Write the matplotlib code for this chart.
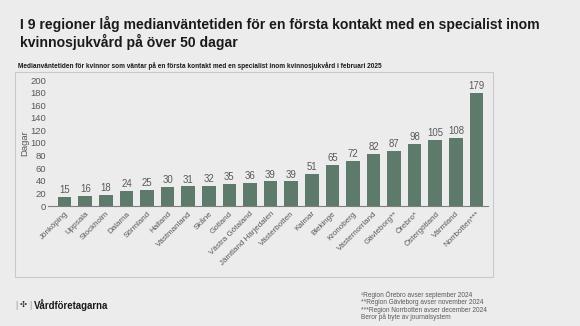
import matplotlib.pyplot as plt
from matplotlib.patches import Rectangle

plt.rcParams['font.family'] = ['Liberation Sans', 'DejaVu Sans']

regioner = ['Jönköping', 'Uppsala', 'Stockholm', 'Dalarna', 'Sörmland', 'Halland',
            'Västmanland', 'Skåne', 'Gotland', 'Västra Götaland', 'Jämtland Härjedalen',
            'Västerbotten', 'Kalmar', 'Blekinge', 'Kronoberg', 'Västernorrland',
            'Gävleborg**', 'Örebro*', 'Östergötland', 'Värmland', 'Norrbotten***']
dagar = [15, 16, 18, 24, 25, 30, 31, 32, 35, 36, 39, 39, 51, 65, 72, 82, 87, 98, 105, 108, 179]
y_ticks = list(range(0, 201, 20))

fotnoter = ['¹Region Örebro avser september 2024',
            '**Region Gävleborg avser november 2024',
            '***Region Norrbotten avser december 2024',
            'Beror på byte av journalsystem']

bg = '#ececec'
bar_color = '#5e7a6b'
grey = '#595959'

fig = plt.figure(figsize=(5.8, 3.26), dpi=100, facecolor=bg)

# ram runt diagrammet (bara kant)
fig.patches.append(Rectangle((15 / 580, 1 - 277 / 326), 478 / 580, 205 / 326,
                             transform=fig.transFigure, fill=False,
                             edgecolor='#c9c9c9', linewidth=0.8))

fig.text(20 / 580, 1 - 29.5 / 326,
         'I 9 regioner låg medianväntetiden för en första kontakt med en specialist inom',
         fontsize=10.1, fontweight='bold', color='#1a1a1a', va='baseline')
fig.text(20 / 580, 1 - 46.5 / 326, 'kvinnosjukvård på över 50 dagar',
         fontsize=10.1, fontweight='bold', color='#1a1a1a', va='baseline')
fig.text(18 / 580, 1 - 66 / 326,
         'Medianväntetiden för kvinnor som väntar på en första kontakt med en specialist inom kvinnosjukvård i februari 2025',
         fontsize=4.7, fontweight='bold', color='#1a1a1a', va='center')

ax = fig.add_axes([48 / 580, 1 - 206 / 326, 440 / 580, 126 / 326])
ax.patch.set_alpha(0)
x = range(len(regioner))
bars = ax.bar(x, dagar, width=0.66, color=bar_color, zorder=2)
for xi, v in zip(x, dagar):
    ax.text(xi, v + 3, str(v), ha='center', va='bottom', fontsize=6.9, color=grey)

ax.set_xlim(-0.81, 20.56)
ax.set_ylim(0, 200)
ax.set_yticks(y_ticks)
ax.tick_params(axis='y', length=0, labelsize=6.8, labelcolor=grey, pad=1.5)
ax.set_xticks(list(x))
ax.set_xticklabels(regioner, rotation=45, ha='right', rotation_mode='anchor',
                   fontsize=5.8, color=grey)
ax.tick_params(axis='x', length=0, pad=3)
for s in ['top', 'right', 'left']:
    ax.spines[s].set_visible(False)
ax.spines['bottom'].set_color('#7f7f7f')
ax.spines['bottom'].set_linewidth(0.8)
ax.set_ylabel('Dagar', fontsize=6.8, color=grey, labelpad=0.8)

# logga längst ned
fig.text(15 / 580, 1 - 305 / 326, '|', fontsize=6.5, color='#9a9a9a', va='center')
fig.text(20 / 580, 1 - 305 / 326, '✣', fontsize=6, color='#1a1a1a', va='center')
fig.text(29.5 / 580, 1 - 305 / 326, '|', fontsize=6.5, color='#9a9a9a', va='center')
fig.text(34 / 580, 1 - 305 / 326, 'Vårdföretagarna', fontsize=6.9, fontweight='bold',
         color='#1a1a1a', va='center')

for i, t in enumerate(fotnoter):
    fig.text(361 / 580, 1 - (295 + 7.5 * i) / 326, t, fontsize=4.7, color=grey, va='center')

fig.savefig('out.png', dpi=100, facecolor=bg)
